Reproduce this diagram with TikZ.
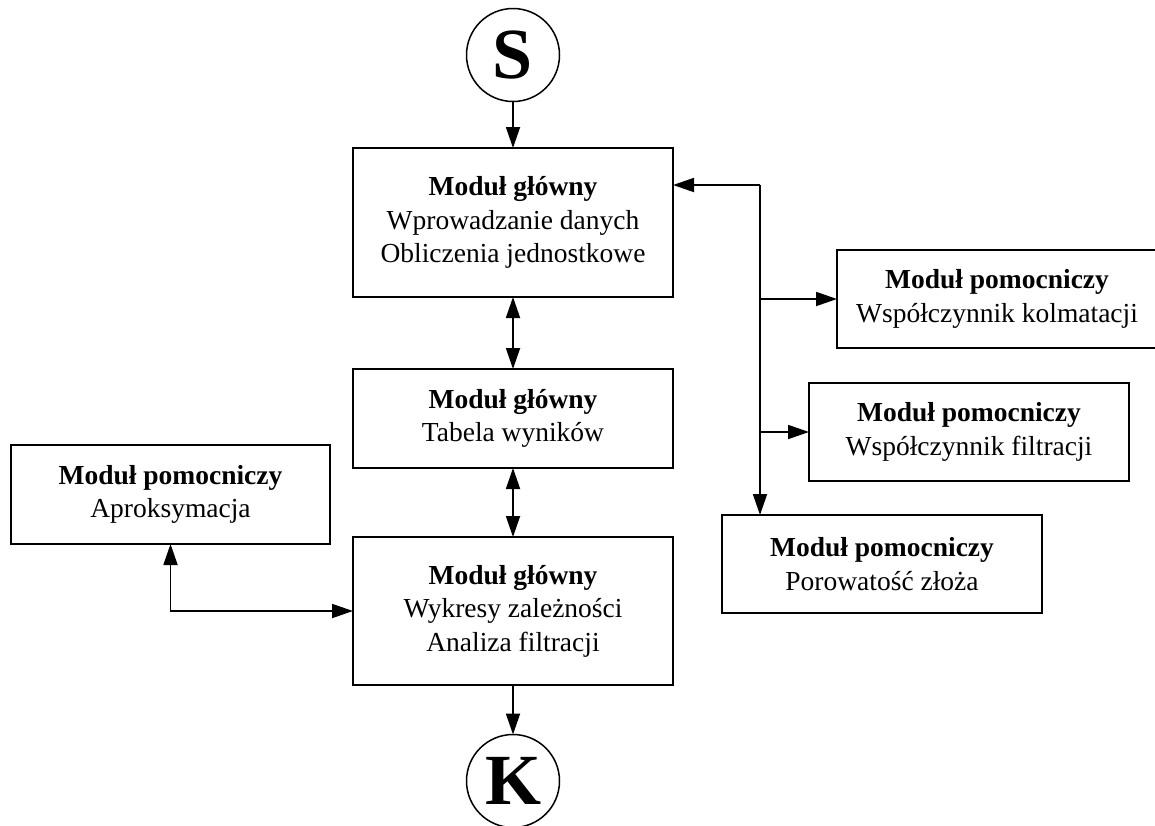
\documentclass[tikz,border=0pt]{standalone}
\usepackage{fontspec}
\setmainfont{Liberation Serif}
\usetikzlibrary{arrows.meta}
\begin{document}
\begin{tikzpicture}[x=1pt,y=-1pt,
  line width=1.8pt,
  every node/.style={inner sep=0pt, outer sep=0pt},
  modbox/.style={draw, line width=1.8pt, minimum width=320pt, align=center,
    font=\fontsize{27.5}{33.5}\selectfont},
  term/.style={draw, circle, line width=1.5pt, minimum size=93pt,
    font=\fontsize{72}{72}\selectfont\bfseries},
  conn/.style={line width=1.8pt, -{Triangle[length=21pt,width=14pt]}},
  dconn/.style={line width=1.8pt, {Triangle[length=21pt,width=14pt]}-{Triangle[length=21pt,width=14pt]}}
]
\useasboundingbox (0,0) rectangle (1155,825);

\node[term] (S) at (513,55) {S};
\node[term] (K) at (513,781) {K};

\node[modbox, minimum height=149pt] (B1) at (513,222.5)
  {\textbf{Moduł główny}\\Wprowadzanie danych\\Obliczenia jednostkowe};
\node[modbox, minimum height=99pt] (B2) at (513,418.5)
  {\textbf{Moduł główny}\\Tabela wyników};
\node[modbox, minimum height=148pt] (B3) at (513,611)
  {\textbf{Moduł główny}\\Wykresy zależności\\Analiza filtracji};
\node[modbox, minimum width=319pt, minimum height=99pt] (A) at (170.5,494.5)
  {\textbf{Moduł pomocniczy}\\Aproksymacja};
\node[modbox, minimum height=98pt] (Kol) at (997,299)
  {\textbf{Moduł pomocniczy}\\Współczynnik kolmatacji};
\node[modbox, minimum height=98pt] (Fil) at (969,432)
  {\textbf{Moduł pomocniczy}\\Współczynnik filtracji};
\node[modbox, minimum height=98pt] (Por) at (882,564)
  {\textbf{Moduł pomocniczy}\\Porowatość złoża};

\draw[conn] (S) -- (B1);
\draw[dconn] (B1) -- (B2);
\draw[dconn] (B2) -- (B3);
\draw[conn] (B3) -- (K);
\draw[dconn] (A.south) |- (B3.west);

\coordinate (t) at (760,185);
\draw[conn] (t) -- (B1.east |- t);
\draw[conn] (t) -- (t |- Por.north);
\draw[conn] (t |- Kol.west) -- (Kol.west);
\draw[conn] (t |- Fil.west) -- (Fil.west);
\end{tikzpicture}
\end{document}
